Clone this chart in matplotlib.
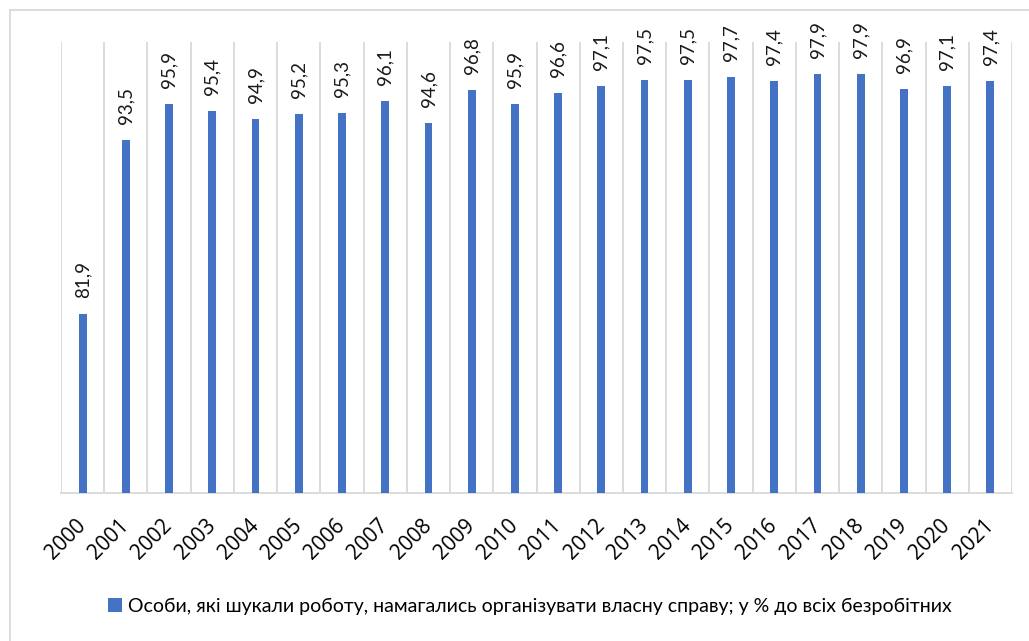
import matplotlib
matplotlib.use("Agg")
import matplotlib.pyplot as plt
from matplotlib.lines import Line2D
from matplotlib.patches import Patch

years = ["2000", "2001", "2002", "2003", "2004", "2005", "2006", "2007", "2008", "2009", "2010",
         "2011", "2012", "2013", "2014", "2015", "2016", "2017", "2018", "2019", "2020", "2021"]
values = [81.9, 93.5, 95.9, 95.4, 94.9, 95.2, 95.3, 96.1, 94.6, 96.8, 95.9,
          96.6, 97.1, 97.5, 97.5, 97.7, 97.4, 97.9, 97.9, 96.9, 97.1, 97.4]
series_name = "Особи, які шукали роботу, намагались організувати власну справу; у % до всіх безробітних"

BLUE = "#4472C4"
GRID = "#D9D9D9"
FONT = ["Lato", "DejaVu Sans"]
plt.rcParams["font.family"] = FONT

W, H = 1029, 641
fig = plt.figure(figsize=(W / 100, H / 100), dpi=100)
ax = fig.add_axes([61 / W, 1 - 493 / H, (1012 - 61) / W, (493 - 42) / H])

x = list(range(len(years)))
ax.bar(x, values, width=0.18, color=BLUE, zorder=3)
ax.set_ylim(70, 100)
ax.set_xlim(-0.5, len(years) - 0.5)

for xi, v in zip(x, values):
    ax.annotate(f"{v:.1f}".replace(".", ","), (xi, v), xytext=(0, 11.5), textcoords="offset points",
                rotation=90, ha="center", va="bottom", fontsize=13.5, color="#1a1a1a")

# vertical category gridlines
for b in range(len(years) + 1):
    ax.axvline(b - 0.5, color=GRID, lw=1.3, zorder=1)

for s in ["top", "right", "left"]:
    ax.spines[s].set_visible(False)
ax.spines["bottom"].set_color(GRID)
ax.spines["bottom"].set_linewidth(1.3)
ax.set_yticks([])
ax.set_xticks(x)
ax.set_xticklabels(years, rotation=45, ha="right", va="center", rotation_mode="anchor",
                   fontsize=15, color="#000000", family=["Open Sans", "DejaVu Sans"])
ax.tick_params(axis="x", length=0, pad=21)

handle = Patch(facecolor=BLUE, edgecolor="none")
fig.legend([handle], [series_name], loc="center", bbox_to_anchor=(530 / W, 1 - 606 / H),
           frameon=False, fontsize=14, handlelength=0.75, handleheight=0.75, handletextpad=0.3)

# chart area border (left and top visible)
fig.add_artist(Line2D([10 / W, 10 / W], [0, 1 - 10 / H], transform=fig.transFigure, color=GRID, lw=1.3))
fig.add_artist(Line2D([10 / W, 1], [1 - 10 / H, 1 - 10 / H], transform=fig.transFigure, color=GRID, lw=1.3))

fig.savefig("out.png", dpi=100)
